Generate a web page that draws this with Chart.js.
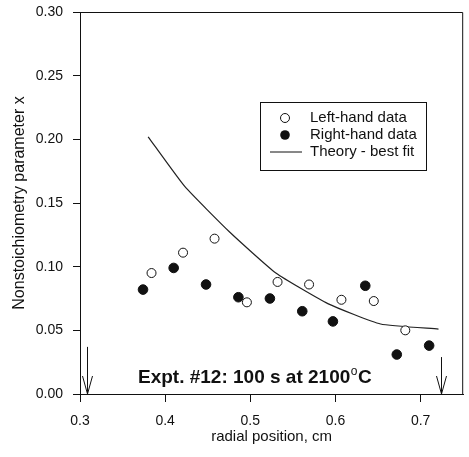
<!DOCTYPE html>
<html>
<head>
<meta charset="utf-8">
<script src="https://cdn.jsdelivr.net/npm/chart.js@4/dist/chart.umd.min.js"></script>
<style>
  html, body { margin: 0; padding: 0; background: #fff; }
  #wrap { width: 469px; height: 457px; }
</style>
</head>
<body>
<div id="wrap"><canvas id="radialChart" width="469" height="457"></canvas></div>
<script>
// values
var leftX  = [0.384, 0.421, 0.458, 0.496, 0.532, 0.569, 0.607, 0.645, 0.682];
var leftY  = [0.095, 0.111, 0.122, 0.072, 0.088, 0.086, 0.074, 0.073, 0.050];
var rightX = [0.374, 0.410, 0.448, 0.486, 0.523, 0.561, 0.597, 0.635, 0.672, 0.710];
var rightY = [0.082, 0.099, 0.086, 0.076, 0.075, 0.065, 0.057, 0.085, 0.031, 0.038];
var theoryX = [0.380, 0.423, 0.476, 0.530, 0.591, 0.653, 0.721];
var theoryY = [0.202, 0.163, 0.127, 0.095, 0.071, 0.055, 0.051];
var xTicks = [0.3, 0.4, 0.5, 0.6, 0.7];
var yTicks = [0.00, 0.05, 0.10, 0.15, 0.20, 0.25, 0.30];
var arrowX = [0.308, 0.724];
var arrowTop = [0.037, 0.029];

function pts(xs, ys) {
  return xs.map(function (x, i) { return { x: x, y: ys[i] }; });
}

var FONT = '"Liberation Sans", Arial, Helvetica, sans-serif';
var INK = '#111';

var extras = {
  id: 'extras',
  afterDraw: function (chart) {
    var c = chart.ctx, a = chart.chartArea;
    var xs = chart.scales.x, ys = chart.scales.y;
    c.save();
    c.strokeStyle = INK;
    c.lineWidth = 1;
    // top and right frame
    c.beginPath();
    c.moveTo(a.left, a.top + 0.5);
    c.lineTo(a.right - 0.5, a.top + 0.5);
    c.lineTo(a.right - 0.5, a.bottom);
    c.stroke();

    // arrows marking the edges
    arrowX.forEach(function (v, i) {
      var px = Math.round(xs.getPixelForValue(v)) + 0.5;
      var top = ys.getPixelForValue(arrowTop[i]);
      var bot = ys.getPixelForValue(0);
      c.beginPath();
      c.moveTo(px, top);
      c.lineTo(px, bot);
      c.moveTo(px - 5, bot - 18);
      c.lineTo(px, bot);
      c.lineTo(px + 5, bot - 18);
      c.stroke();
    });

    // legend box
    var lx = 260, ly = 102, lw = 166, lh = 68;
    c.strokeRect(lx + 0.5, ly + 0.5, lw, lh);
    c.font = '15px ' + FONT;
    c.fillStyle = INK;
    c.textBaseline = 'middle';
    c.textAlign = 'left';
    var rows = [118, 135, 152];
    c.beginPath();
    c.arc(285, rows[0], 4.5, 0, Math.PI * 2);
    c.stroke();
    c.beginPath();
    c.arc(285, rows[1], 4.8, 0, Math.PI * 2);
    c.fill();
    c.beginPath();
    c.moveTo(270, rows[2]);
    c.lineTo(302, rows[2]);
    c.stroke();
    c.fillText('Left-hand data', 310, rows[0]);
    c.fillText('Right-hand data', 310, rows[1]);
    c.fillText('Theory - best fit', 310, rows[2]);

    // experiment label
    c.font = 'bold 19px ' + FONT;
    c.textBaseline = 'alphabetic';
    var t1 = 'Expt. #12: 100 s at 2100';
    var tx = 138, ty = 383;
    c.fillText(t1, tx, ty);
    var w1 = c.measureText(t1).width;
    c.font = '12px ' + FONT;
    c.fillText('o', tx + w1 + 0.5, ty - 8);
    var w2 = c.measureText('o').width;
    c.font = 'bold 19px ' + FONT;
    c.fillText('C', tx + w1 + w2 + 1, ty);
    c.restore();
  }
};

var ctx = document.getElementById('radialChart').getContext('2d');
var chart = new Chart(ctx, {
  type: 'scatter',
  data: {
    datasets: [
      {
        label: 'Left-hand data',
        data: pts(leftX, leftY),
        pointRadius: 4.5,
        pointBackgroundColor: '#fff',
        pointBorderColor: INK,
        pointBorderWidth: 1,
        showLine: false
      },
      {
        label: 'Right-hand data',
        data: pts(rightX, rightY),
        pointRadius: 4.8,
        pointBackgroundColor: INK,
        pointBorderColor: INK,
        pointBorderWidth: 1,
        showLine: false
      },
      {
        label: 'Theory - best fit',
        data: pts(theoryX, theoryY),
        showLine: true,
        borderColor: '#222',
        borderWidth: 1.2,
        pointRadius: 0,
        tension: 0.15,
        fill: false
      }
    ]
  },
  options: {
    responsive: false,
    animation: false,
    layout: { padding: { top: 12, right: 3, left: 0, bottom: 0 } },
    plugins: {
      legend: { display: false },
      tooltip: { enabled: false }
    },
    scales: {
      x: {
        type: 'linear',
        min: 0.3,
        max: 0.75,
        afterBuildTicks: function (s) { s.ticks = xTicks.map(function (v) { return { value: v }; }); },
        afterFit: function (s) { s.height = 63; s.paddingLeft = 0; s.paddingRight = 0; },
        ticks: {
          color: INK,
          font: { family: FONT, size: 14 },
          padding: 11,
          maxRotation: 0,
          callback: function (v) { return v.toFixed(1); }
        },
        grid: { drawOnChartArea: false, tickLength: 8, color: INK, lineWidth: 1 },
        border: { display: true, color: INK, width: 1 },
        title: {
          display: true,
          text: 'radial position, cm',
          color: INK,
          font: { family: FONT, size: 15 },
          padding: { top: 4, bottom: 11 }
        }
      },
      y: {
        min: 0,
        max: 0.3,
        afterBuildTicks: function (s) { s.ticks = yTicks.map(function (v) { return { value: v }; }); },
        afterFit: function (s) { s.width = 80; s.paddingTop = 0; s.paddingBottom = 0; },
        ticks: {
          color: INK,
          font: { family: FONT, size: 14 },
          padding: 10,
          callback: function (v) { return v.toFixed(2); }
        },
        grid: { drawOnChartArea: false, tickLength: 7, color: INK, lineWidth: 1 },
        border: { display: true, color: INK, width: 1 },
        title: {
          display: true,
          text: 'Nonstoichiometry parameter x',
          color: INK,
          font: { family: FONT, size: 16 },
          padding: { top: 10, bottom: 4 }
        }
      }
    }
  },
  plugins: [extras]
});
</script>
</body>
</html>
